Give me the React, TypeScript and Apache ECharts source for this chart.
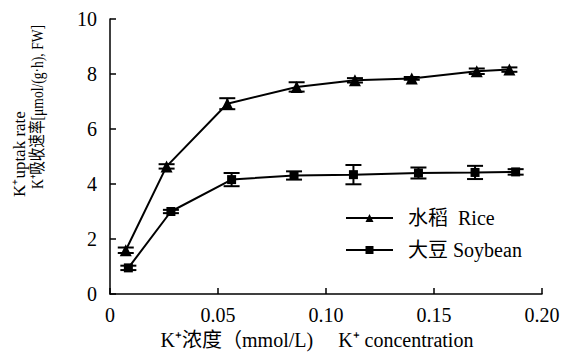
import React, { useEffect, useRef } from "react";
import * as echarts from "echarts";

const riceX = [0.0073, 0.0262, 0.0543, 0.0864, 0.1134, 0.1397, 0.1698, 0.1849];
const riceY = [1.59, 4.64, 6.92, 7.53, 7.77, 7.84, 8.1, 8.16];
const riceErr = [0.1, 0.08, 0.2, 0.17, 0.08, 0.05, 0.1, 0.08];

const soyX = [0.0085, 0.0282, 0.0563, 0.0852, 0.1127, 0.1428, 0.169, 0.1878];
const soyY = [0.95, 3.0, 4.16, 4.31, 4.34, 4.4, 4.42, 4.44];
const soyErr = [0.08, 0.06, 0.24, 0.15, 0.35, 0.2, 0.24, 0.1];

const xTicks = [0, 0.05, 0.1, 0.15, 0.2];
const yTicks = [0, 2, 4, 6, 8, 10];

const FONT = "Liberation Serif, Times New Roman, Noto Sans CJK SC, serif";

export default function App() {
  const ref = useRef<HTMLDivElement>(null);
  useEffect(() => {
    if (!ref.current) return;
    const chart = echarts.init(ref.current, null, { renderer: "svg" });
    const pts = (xs: number[], ys: number[]) => xs.map((x, i) => [x, ys[i]]);
    const errPts = (xs: number[], ys: number[], es: number[]) => xs.map((x, i) => [x, ys[i], es[i]]);
    const errRender = (params: any, api: any) => {
      const x = api.value(0), y = api.value(1), e = api.value(2);
      const t = api.coord([x, y + e]);
      const b = api.coord([x, y - e]);
      const hw = 8;
      const st = { stroke: "#000", lineWidth: 2 };
      return {
        type: "group",
        children: [
          { type: "line", shape: { x1: t[0], y1: t[1], x2: b[0], y2: b[1] }, style: st },
          { type: "line", shape: { x1: t[0] - hw, y1: t[1], x2: t[0] + hw, y2: t[1] }, style: st },
          { type: "line", shape: { x1: b[0] - hw, y1: b[1], x2: b[0] + hw, y2: b[1] }, style: st },
        ],
      };
    };
    chart.setOption({
      animation: false,
      backgroundColor: "#fff",
      textStyle: { fontFamily: FONT, color: "#000" },
      grid: { left: 110, right: 34, top: 19, bottom: 70, containLabel: false },
      legend: {
        orient: "vertical",
        left: 340,
        top: 203,
        itemWidth: 47,
        itemHeight: 10,
        itemGap: 12,
        textStyle: { fontFamily: FONT, fontSize: 20, color: "#000", padding: [0, 0, 0, 10] },
        data: ["水稻  Rice", "大豆 Soybean"],
      },
      xAxis: {
        type: "value",
        min: 0,
        max: 0.2,
        interval: 0.05,
        axisLine: { lineStyle: { color: "#000", width: 1.5 } },
        axisTick: { inside: true, length: 6, lineStyle: { color: "#000", width: 1.5 } },
        splitLine: { show: false },
        axisLabel: {
          margin: 11,
          fontSize: 20,
          color: "#000",
          fontFamily: FONT,
          formatter: (v: number) => (xTicks.indexOf(v) === 0 ? "0" : v.toFixed(2)),
        },
        name: "K⁺浓度（mmol/L)     K⁺ concentration",
        nameLocation: "middle",
        nameGap: 35,
        nameTextStyle: { fontSize: 20, color: "#000", fontFamily: FONT, padding: [0, 18, 0, 0] },
      },
      yAxis: {
        type: "value",
        min: 0,
        max: 10,
        interval: 2,
        axisLine: { show: true, lineStyle: { color: "#000", width: 1.5 } },
        axisTick: { show: true, inside: true, length: 6, lineStyle: { color: "#000", width: 1.5 } },
        splitLine: { show: false },
        axisLabel: {
          margin: 13,
          fontSize: 20,
          color: "#000",
          fontFamily: FONT,
          formatter: (v: number) => (yTicks.indexOf(v) >= 0 ? String(v) : ""),
        },
      },
      graphic: [
        {
          type: "text",
          x: 19,
          y: 154,
          rotation: Math.PI / 2,
          style: { text: "K⁺uptak rate", fontSize: 17, fontFamily: FONT, fill: "#000", align: "center", verticalAlign: "middle" },
        },
        {
          type: "text",
          x: 37,
          y: 107,
          rotation: Math.PI / 2,
          scaleX: 0.8,
          style: { text: "K⁺吸收速率[μmol/(g·h), FW]", fontSize: 17, fontFamily: FONT, fill: "#000", align: "center", verticalAlign: "middle" },
        },
      ],
      series: [
        {
          name: "水稻  Rice",
          type: "line",
          data: pts(riceX, riceY),
          symbol: "triangle",
          symbolSize: 12,
          lineStyle: { color: "#000", width: 2 },
          itemStyle: { color: "#000" },
          z: 3,
        },
        {
          name: "大豆 Soybean",
          type: "line",
          data: pts(soyX, soyY),
          symbol: "rect",
          symbolSize: 9,
          lineStyle: { color: "#000", width: 2 },
          itemStyle: { color: "#000" },
          z: 3,
        },
        {
          type: "custom",
          renderItem: errRender,
          data: errPts(riceX, riceY, riceErr),
          encode: { x: 0, y: 1 },
          z: 2,
        },
        {
          type: "custom",
          renderItem: errRender,
          data: errPts(soyX, soyY, soyErr),
          encode: { x: 0, y: 1 },
          z: 2,
        },
      ],
    });
    return () => chart.dispose();
  }, []);
  return <div ref={ref} style={{ width: 576, height: 364, position: "absolute", left: 0, top: 0 }} />;
}
